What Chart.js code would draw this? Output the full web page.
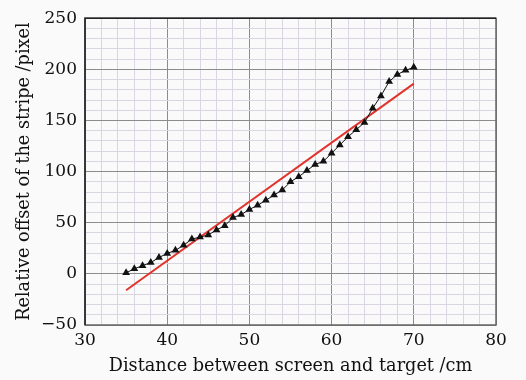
<!DOCTYPE html>
<html>
<head>
<meta charset="utf-8">
<script src="https://cdn.jsdelivr.net/npm/chart.js@4.4.0/dist/chart.umd.min.js"></script>
<style>
  html, body { margin: 0; padding: 0; background: #fafafa; }
  #wrap { width: 526px; height: 380px; }
</style>
</head>
<body>
<div id="wrap"><canvas id="chart" width="526" height="380"></canvas></div>
<script>
// Measured data: distance (cm) vs relative stripe offset (pixel)
const distances = [35, 36, 37, 38, 39, 40, 41, 42, 43, 44, 45, 46, 47, 48, 49, 50, 51, 52,
                   53, 54, 55, 56, 57, 58, 59, 60, 61, 62, 63, 64, 65, 66, 67, 68, 69, 70];
const offsets = [1, 5, 8, 11, 16, 20, 23, 28, 34, 36, 38, 43, 47, 55, 58, 63, 67, 72,
                 77, 82, 90, 95, 101, 107, 110, 118, 126, 134, 141, 148, 162, 174, 188, 195, 199, 202];

// Linear fit (red line) end points
const fitX = [35, 70];
const fitY = [-16, 186];

// Axis ticks
const xMajorTicks = [30, 40, 50, 60, 70, 80];
const yMajorTicks = [-50, 0, 50, 100, 150, 200, 250];

const FONT = "'DejaVu Serif', 'Liberation Serif', serif";

const bgPlugin = {
  id: 'bg',
  beforeDraw(chart) {
    const ctx = chart.ctx;
    ctx.save();
    ctx.fillStyle = '#fafafa';
    ctx.fillRect(0, 0, chart.width, chart.height);
    ctx.restore();
  },
  afterDraw(chart) {
    // frame round the plot area
    const a = chart.chartArea;
    const ctx = chart.ctx;
    ctx.save();
    ctx.lineWidth = 1.5;
    ctx.strokeStyle = '#666';
    ctx.strokeRect(a.left, a.top, a.right - a.left, a.bottom - a.top);
    ctx.strokeStyle = '#222';
    ctx.beginPath();
    ctx.moveTo(a.right, a.top);
    ctx.lineTo(a.left, a.top);
    ctx.lineTo(a.left, a.bottom);
    ctx.stroke();
    ctx.restore();
  }
};

function gridColor(isMajor) {
  return isMajor ? '#8c8c8c' : '#dcd5e2';
}

new Chart(document.getElementById('chart'), {
  type: 'scatter',
  data: {
    datasets: [
      {
        label: 'Fit',
        data: fitX.map((x, i) => ({ x: x, y: fitY[i] })),
        showLine: true,
        borderColor: '#e0342c',
        borderWidth: 2,
        pointRadius: 0,
        order: 2
      },
      {
        label: 'Measured',
        data: distances.map((x, i) => ({ x: x, y: offsets[i] })),
        showLine: true,
        borderColor: '#111',
        borderWidth: 1,
        backgroundColor: '#111',
        pointStyle: 'triangle',
        pointRadius: 4.5,
        pointBorderWidth: 0,
        order: 1
      }
    ]
  },
  options: {
    responsive: false,
    animation: false,
    layout: { padding: { top: 16, right: 30, left: 0, bottom: 0 } },
    plugins: {
      legend: { display: false },
      tooltip: { enabled: false }
    },
    scales: {
      x: {
        type: 'linear',
        min: 30,
        max: 80,
        afterFit(scale) { scale.height = 55; },
        ticks: {
          stepSize: 2,
          autoSkip: false,
          maxRotation: 0,
          padding: 5,
          color: '#111',
          font: { family: FONT, size: 17 },
          callback: v => xMajorTicks.includes(v) ? String(v) : ''
        },
        grid: {
          drawTicks: false,
          lineWidth: 1,
          color: ctx => gridColor(ctx.tick && xMajorTicks.includes(ctx.tick.value))
        },
        border: { display: false },
        title: {
          display: true,
          text: 'Distance between screen and target /cm',
          color: '#111',
          font: { family: FONT, size: 17.7 },
          padding: { top: 0, bottom: 3 }
        }
      },
      y: {
        type: 'linear',
        min: -50,
        max: 250,
        afterFit(scale) { scale.width = 85; },
        ticks: {
          stepSize: 10,
          autoSkip: false,
          padding: 8,
          color: '#111',
          font: { family: FONT, size: 17 },
          callback: v => yMajorTicks.includes(v) ? (v < 0 ? '\u2212' + Math.abs(v) : String(v)) : ''
        },
        grid: {
          drawTicks: false,
          lineWidth: 1,
          color: ctx => gridColor(ctx.tick && yMajorTicks.includes(ctx.tick.value))
        },
        border: { display: false },
        title: {
          display: true,
          text: 'Relative offset of the stripe /pixel',
          color: '#111',
          font: { family: FONT, size: 17.7 },
          padding: { top: 14, bottom: 0 }
        }
      }
    }
  },
  plugins: [bgPlugin]
});
</script>
</body>
</html>
